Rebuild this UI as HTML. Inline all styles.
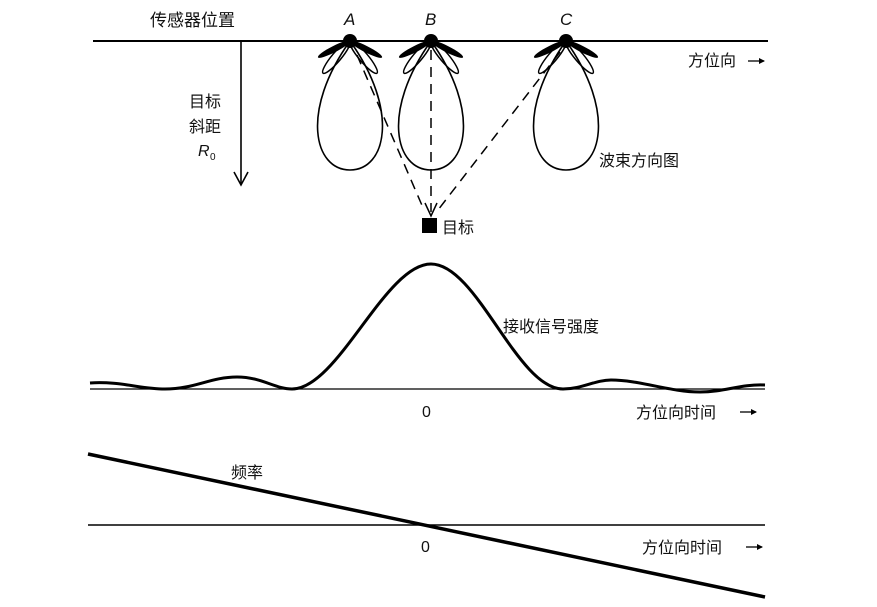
<!DOCTYPE html>
<html><head><meta charset="utf-8"><style>
html,body{margin:0;padding:0;background:#fff;}
svg{display:block;}
text{font-family:"Liberation Sans","Noto Sans CJK SC",sans-serif;fill:#111;}
</style></head><body>
<svg width="877" height="607" viewBox="0 0 877 607" xmlns="http://www.w3.org/2000/svg">
<defs>
<g id="sens">
  <path d="M0,0 C-50,70 -36,129 0,129 C36,129 50,70 0,0 Z" fill="none" stroke="#000" stroke-width="1.6"/>
  <g transform="rotate(153)"><ellipse cx="18" cy="0" rx="18" ry="3.2" fill="#000"/></g>
  <g transform="rotate(27)"><ellipse cx="18" cy="0" rx="18" ry="3.2" fill="#000"/></g>
  <g transform="rotate(130)"><ellipse cx="21" cy="0" rx="21" ry="4.5" fill="none" stroke="#000" stroke-width="1.5"/></g>
  <g transform="rotate(50)"><ellipse cx="21" cy="0" rx="21" ry="4.5" fill="none" stroke="#000" stroke-width="1.5"/></g>
  <circle cx="0" cy="0" r="7" fill="#000"/>
</g>
<g id="arr"><line x1="0" y1="0" x2="16" y2="0" stroke="#000" stroke-width="1.3"/><path d="M11,-3 L17,0 L11,3" fill="#000"/></g>
</defs>
<line x1="93" y1="41" x2="768" y2="41" stroke="#000" stroke-width="2"/>
<text x="150" y="26" font-size="17">传感器位置</text>
<text x="344" y="25" font-size="17" font-style="italic">A</text>
<text x="425" y="25" font-size="17" font-style="italic">B</text>
<text x="560" y="25" font-size="17" font-style="italic">C</text>
<use href="#sens" x="350" y="41"/>
<use href="#sens" x="431" y="41"/>
<use href="#sens" x="566" y="41"/>
<line x1="241" y1="41" x2="241" y2="184" stroke="#000" stroke-width="1.6"/>
<path d="M234,172 L241,185 L248,172" fill="none" stroke="#000" stroke-width="1.6"/>
<text x="189" y="107" font-size="16">目标</text>
<text x="189" y="132" font-size="16">斜距</text>
<text x="198" y="156" font-size="16" font-style="italic">R</text><text x="210" y="160" font-size="10">0</text>
<text x="688" y="66" font-size="16">方位向</text>
<use href="#arr" x="748" y="61"/>
<text x="599" y="166" font-size="16">波束方向图</text>
<g stroke="#000" stroke-width="1.5" stroke-dasharray="10,7" fill="none">
<line x1="357" y1="55" x2="424" y2="210"/>
<line x1="431" y1="50" x2="431" y2="212"/>
<line x1="560" y1="52" x2="438" y2="210"/>
</g>
<path d="M425,203 L431,216 L437,203" fill="none" stroke="#000" stroke-width="1.5"/>
<rect x="422" y="218" width="15" height="15" fill="#000"/>
<text x="442" y="233" font-size="16">目标</text>
<line x1="90" y1="389" x2="765" y2="389" stroke="#000" stroke-width="1.3"/>
<path d="M90,383 C120,381 140,389 165,389 C195,389 210,377 237,377 C262,377 275,389 292,389 C338,389 385,264 431,264 C477,264 517,389 563,389 C582,389 595,380 611,380 C640,380 670,392 700,392 C725,392 740,384 765,385" fill="none" stroke="#000" stroke-width="3"/>
<text x="503" y="332" font-size="16">接收信号强度</text>
<text x="422" y="417" font-size="16">0</text>
<text x="636" y="418" font-size="16">方位向时间</text>
<use href="#arr" x="740" y="412"/>
<line x1="88" y1="525" x2="765" y2="525" stroke="#000" stroke-width="1.6"/>
<line x1="88" y1="454" x2="765" y2="597" stroke="#000" stroke-width="3.5"/>
<text x="231" y="478" font-size="16">频率</text>
<text x="421" y="552" font-size="16">0</text>
<text x="642" y="553" font-size="16">方位向时间</text>
<use href="#arr" x="746" y="547"/>
</svg>
</body></html>
